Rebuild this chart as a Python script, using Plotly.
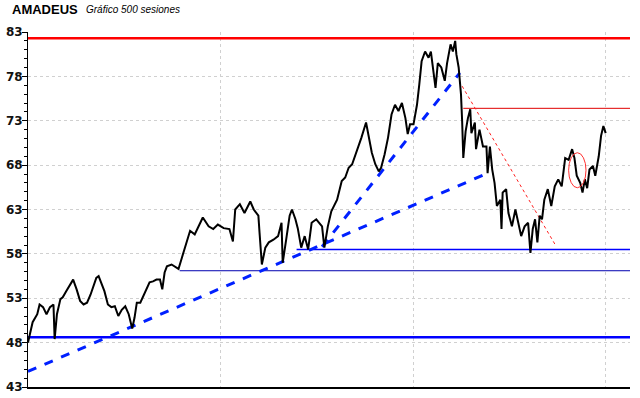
import plotly.graph_objects as go

# --- price path (session index, price) ---
sessions = [0, 2, 4, 8, 10, 13, 16, 19, 22, 23, 25, 28, 30, 33, 36, 39, 42, 45, 48, 51,
            54, 56, 59, 61, 64, 66, 69, 72, 75, 78, 81, 84, 87, 90, 92, 94, 97, 100, 103, 105,
            108, 111, 114, 116, 118, 120, 124, 130,
            133, 137, 140, 144, 149, 151, 156, 160, 164, 169, 174, 177, 179, 183, 187, 192, 195, 199, 200, 202,
            205, 208, 212, 216, 219, 220, 223, 226, 228, 231, 233, 236, 239, 242, 245, 249, 254, 256, 259, 262,
            267, 271, 274, 277, 280, 282, 285, 288, 292, 294, 297, 300, 303, 305, 308, 311, 314, 317, 320, 323,
            326, 328, 330, 333, 336, 338, 340, 343, 346, 348, 350, 352, 354, 357, 360, 362, 365, 367, 369, 370,
            372, 374, 375, 376, 378, 380,
            382, 383, 386, 387, 390, 393, 396, 397, 399, 401, 403, 405, 408, 409, 410, 413, 415, 418, 421, 423,
            426, 429, 432, 434, 436, 438, 440, 442, 444, 446, 449, 452, 455, 458, 461, 464, 467, 470, 472, 474,
            477, 479, 481, 483, 485, 488, 490, 493, 495, 497, 499]
prices = [48.0, 49.3, 50.3, 51.2, 52.3, 52.0, 51.2, 52.0, 52.3, 48.4, 51.2, 52.9, 53.1, 53.8, 54.4, 55.1, 54.0, 52.7, 52.3, 52.5,
          53.4, 54.2, 55.3, 55.5, 54.4, 53.8, 52.3, 52.0, 52.1, 51.0, 51.7, 52.1, 51.2, 49.6, 50.8, 52.5, 52.5, 53.4, 54.4, 54.8,
          54.9, 55.1, 55.1, 54.0, 55.9, 56.6, 56.8, 56.3,
          57.6, 59.3, 60.6, 60.2, 61.5, 62.1, 61.1, 60.8, 61.3, 60.9, 60.8, 59.4, 63.0, 63.6, 62.6, 63.9, 63.0, 62.3, 60.4, 56.8,
          58.7, 59.3, 59.6, 60.0, 61.5, 57.0, 59.6, 62.3, 63.0, 61.9, 60.9, 58.7, 60.0, 58.5, 61.5, 61.9, 61.1, 58.7, 61.1, 62.8,
          64.1, 66.2, 66.6, 67.7, 68.1, 68.8, 70.0, 71.1, 72.8, 71.5, 69.4, 68.1, 67.3, 67.7, 69.2, 71.1, 73.7, 74.8, 74.1, 75.0,
          73.3, 71.5, 72.6, 72.6, 74.8, 77.1, 79.7, 80.8, 80.1, 80.8, 78.6, 76.7, 79.5, 79.0, 77.5, 79.5, 81.6, 80.8, 82.0, 80.5,
          79.0, 76.0, 73.0, 68.8, 71.8, 73.3,
          74.3, 71.6, 72.8, 69.8, 72.0, 70.1, 70.1, 67.1, 70.1, 67.5, 66.0, 63.4, 64.1, 60.8, 64.9, 65.3, 62.6, 61.1, 63.0, 61.9,
          60.0, 61.1, 61.5, 58.1, 60.8, 61.9, 59.3, 62.3, 61.9, 64.1, 65.3, 63.4, 65.6, 66.4, 65.6, 68.8, 68.6, 69.8, 68.8, 66.8,
          66.0, 64.9, 66.4, 65.4, 67.5, 67.9, 66.8, 69.0, 71.3, 72.4, 71.6]

# --- horizontal levels ---
level_values = [82.3, 74.4, 58.5, 56.1, 48.6]
level_starts = [0, 376, 232, 131, 0]
level_colors = ["#FF0000", "#E00000", "#0000FF", "#0000B0", "#0000FF"]
level_widths = [2.5, 1, 1.5, 1, 2.5]
x_end = 520

# --- trend lines (start session, start price, end session, end price) ---
trend_blue = [(0, 44.75, 399, 67.2), (254, 58.8, 373, 78.4)]
trend_red = [(375, 76.9, 456, 58.9)]

# --- ellipse marking (session range, price range) ---
ellipse_x = (467, 482)
ellipse_y = (65.45, 69.4)

y_ticks = [43, 48, 53, 58, 63, 68, 73, 78, 83]
x_grid = [166, 333, 499]

fig = go.Figure()

for v, s, c, w in zip(level_values, level_starts, level_colors, level_widths):
    fig.add_trace(go.Scatter(x=[s, x_end], y=[v, v], mode="lines",
                             line=dict(color=c, width=w), hoverinfo="skip", showlegend=False))

for x0, y0, x1, y1 in trend_blue:
    fig.add_trace(go.Scatter(x=[x0, x1], y=[y0, y1], mode="lines",
                             line=dict(color="#0020FF", width=3, dash="dash"),
                             hoverinfo="skip", showlegend=False))
for x0, y0, x1, y1 in trend_red:
    fig.add_trace(go.Scatter(x=[x0, x1], y=[y0, y1], mode="lines",
                             line=dict(color="#FF2020", width=1, dash="dot"),
                             hoverinfo="skip", showlegend=False))

fig.add_trace(go.Scatter(x=sessions, y=prices, mode="lines",
                         line=dict(color="#000000", width=2), showlegend=False))

fig.add_shape(type="circle", xref="x", yref="y",
              x0=ellipse_x[0], x1=ellipse_x[1], y0=ellipse_y[0], y1=ellipse_y[1],
              line=dict(color="#FF3030", width=1))

fig.update_layout(
    width=640, height=398,
    margin=dict(l=28, r=10, t=32, b=11),
    paper_bgcolor="white", plot_bgcolor="white",
    xaxis=dict(range=[0, x_end], tickvals=x_grid, showticklabels=False, ticks="",
               automargin=False,
               showgrid=True, gridcolor="#D0D0D0", griddash="dot", gridwidth=1,
               showline=True, linecolor="black", linewidth=1.5, mirror=False, zeroline=False),
    yaxis=dict(range=[43, 83], tickvals=y_ticks, ticks="outside", ticklen=5, tickcolor="black",
               automargin=False, ticklabelstandoff=-3,
               tickfont=dict(family="DejaVu Sans", size=12, color="#111111", weight="bold"),
               showgrid=True, gridcolor="#D0D0D0", griddash="dot", gridwidth=1,
               showline=True, linecolor="black", linewidth=1, zeroline=False,
               minor=dict(dtick=1, ticks="outside", ticklen=3, tickcolor="black", showgrid=False)),
    annotations=[
        dict(text="<b>AMADEUS</b>", xref="paper", yref="paper", x=-0.03, y=1.062,
             xanchor="left", yanchor="middle", showarrow=False,
             font=dict(family="Liberation Sans, Arial", size=13, color="black")),
        dict(text="<i>Gráfico 500 sesiones</i>", xref="paper", yref="paper", x=0.093, y=1.062,
             xanchor="left", yanchor="middle", showarrow=False,
             font=dict(family="Liberation Sans, Arial", size=10, color="black")),
    ],
)

fig.write_html("out.html", config={"displayModeBar": False},
               post_script="document.body.style.margin='0';")
